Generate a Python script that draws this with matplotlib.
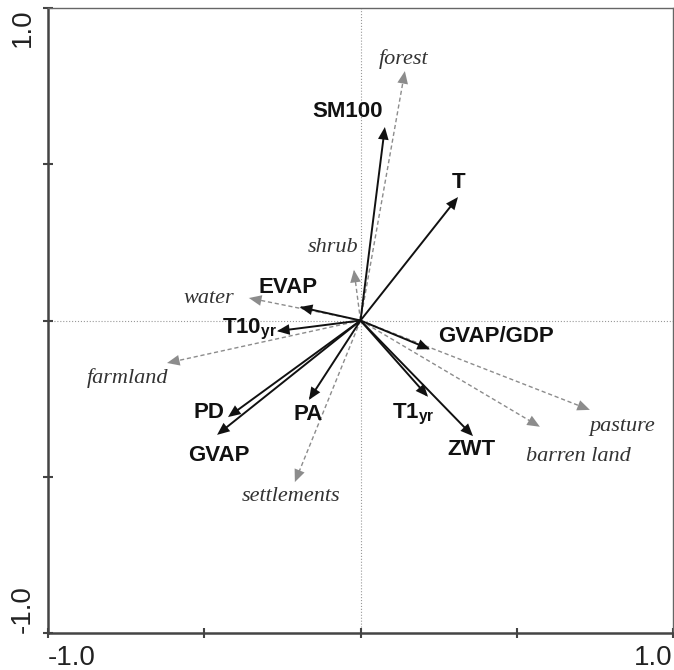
import matplotlib
matplotlib.use("Agg")
import matplotlib.pyplot as plt

plt.rcParams["mathtext.fontset"] = "custom"
plt.rcParams["mathtext.bf"] = "Liberation Sans:bold"
plt.rcParams["mathtext.rm"] = "Liberation Sans"

# explanatory variables (black arrows)
env_names = ["SM100", "T", "EVAP", r"T10$_\mathbf{yr}$", "PD", "GVAP", "PA",
             "GVAP/GDP", r"T1$_\mathbf{yr}$", "ZWT"]
env_x = [0.078, 0.312, -0.194, -0.267, -0.424, -0.459, -0.165, 0.222, 0.216, 0.360]
env_y = [0.619, 0.395, 0.043, -0.034, -0.309, -0.366, -0.254, -0.092, -0.244, -0.370]
env_lab_x = [-0.042, 0.315, -0.232, -0.354, -0.485, -0.453, -0.168, 0.434, 0.168, 0.354]
env_lab_y = [0.670, 0.440, 0.107, -0.030, -0.293, -0.433, -0.302, -0.050, -0.302, -0.414]

# land use types (grey dashed arrows)
lu_names = ["forest", "shrub", "water", "farmland", "settlements", "pasture", "barren land"]
lu_x = [0.142, -0.021, -0.357, -0.619, -0.210, 0.734, 0.574]
lu_y = [0.798, 0.162, 0.072, -0.136, -0.517, -0.286, -0.340]
lu_lab_x = [0.139, -0.088, -0.485, -0.747, -0.222, 0.837, 0.696]
lu_lab_y = [0.837, 0.235, 0.069, -0.184, -0.562, -0.338, -0.434]

fig = plt.figure(figsize=(6.74, 6.70), dpi=100)
ax = fig.add_axes([48 / 674, 37 / 670, 625 / 674, 625 / 670])
ax.set_xlim(-1, 1)
ax.set_ylim(-1, 1)

ax.axhline(0, color="#999999", lw=0.8, ls=":", zorder=1)
ax.axvline(0, color="#999999", lw=0.8, ls=":", zorder=1)


def arrow(x, y, color, ls, lw):
    ax.plot([0, x * 0.97], [0, y * 0.97], color=color, ls=ls, lw=lw, zorder=2,
            dashes=(3, 2) if ls == "--" else (None, None))
    ax.annotate("", xy=(x, y), xytext=(x * 0.9, y * 0.9),
                arrowprops=dict(arrowstyle="-|>,head_length=0.75,head_width=0.32",
                                color=color, lw=0.01, mutation_scale=12,
                                shrinkA=0, shrinkB=0),
                zorder=3)


for x, y in zip(lu_x, lu_y):
    arrow(x, y, "#8c8c8c", "--", 1.0)
for x, y in zip(env_x, env_y):
    arrow(x, y, "#111111", "-", 1.4)

for name, x, y in zip(env_names, env_lab_x, env_lab_y):
    ax.text(x, y, name, fontsize=16, fontweight="bold", family="Liberation Sans",
            color="#111111", ha="center", va="center", zorder=4)
for name, x, y in zip(lu_names, lu_lab_x, lu_lab_y):
    ax.text(x, y, name, fontsize=16, style="italic", family="Liberation Serif",
            color="#333333", ha="center", va="center", zorder=4)

ax.set_xticks([-1, -0.5, 0, 0.5, 1])
ax.set_yticks([-1, -0.5, 0, 0.5, 1])
ax.set_xticklabels(["-1.0", "", "", "", "1.0"])
ax.set_yticklabels(["-1.0", "", "", "", "1.0"], rotation=90)
ax.tick_params(direction="inout", length=7, width=1.5, color="#444444",
               labelsize=20, labelcolor="#222222", pad=5)
xl = ax.get_xticklabels()
xl[0].set_horizontalalignment("left")
xl[-1].set_horizontalalignment("right")
yl = ax.get_yticklabels()
yl[0].set_verticalalignment("bottom")
yl[-1].set_verticalalignment("top")
for lab in xl + yl:
    lab.set_family("Liberation Sans")
ax.tick_params(axis="x", top=False)
ax.tick_params(axis="y", right=False)

for side in ["left", "bottom"]:
    ax.spines[side].set_color("#444444")
    ax.spines[side].set_linewidth(1.8)
for side in ["top", "right"]:
    ax.spines[side].set_color("#666666")
    ax.spines[side].set_linewidth(1.0)

fig.savefig("out.png", dpi=100)
